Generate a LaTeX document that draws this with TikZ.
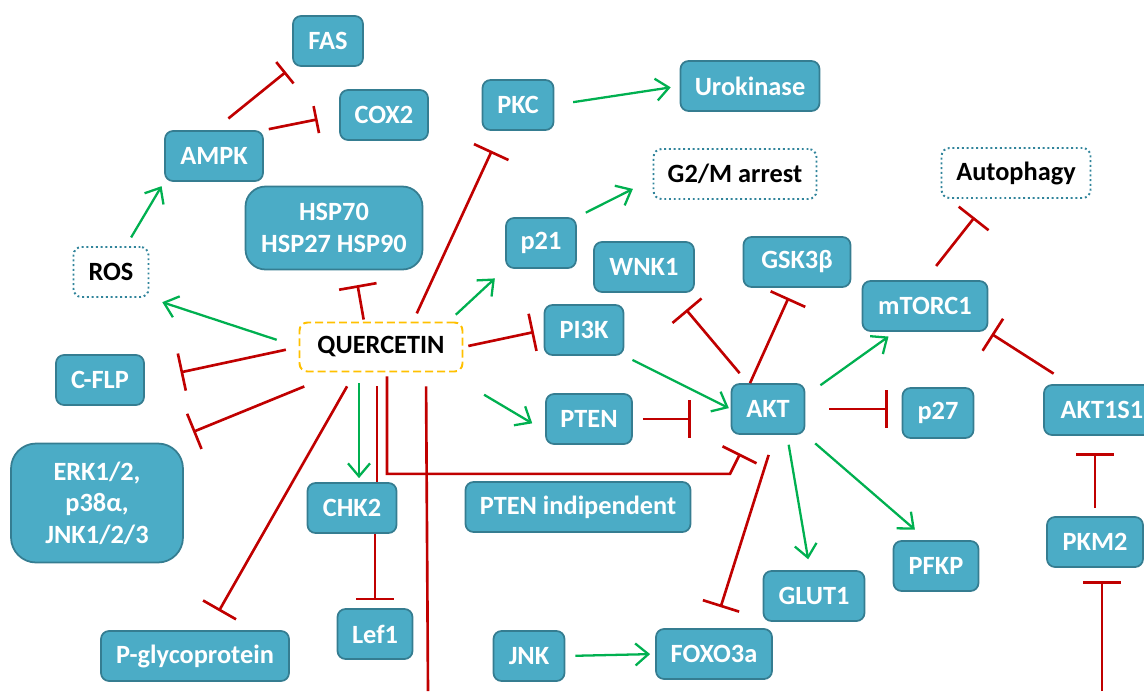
\documentclass[tikz,border=0pt]{standalone}
\usepackage{fontspec}
\setmainfont{Carlito}
\usepackage{tikz}
\usetikzlibrary{arrows.meta,calc}
\definecolor{boxfill}{HTML}{4BACC6}
\definecolor{boxline}{HTML}{357D91}
\definecolor{inhred}{HTML}{C00000}
\definecolor{actgreen}{HTML}{00B050}
\definecolor{qorange}{HTML}{FFC000}
\definecolor{dotline}{HTML}{31849B}

\begin{document}
\begin{tikzpicture}[x=0.02cm, y=-0.02cm,
    gene/.style={draw=boxline, line width=1pt, fill=boxfill, rounded corners=0.16cm, text=white,
        font=\fontsize{15}{18}\selectfont\bfseries, minimum height=1cm, inner sep=0pt, align=center},
    event/.style={draw=dotline, line width=1.1pt, dash pattern=on 1.1pt off 1.6pt, rounded corners=0.16cm,
        font=\fontsize{15}{18}\selectfont\bfseries, minimum height=1cm, inner sep=0pt},
    act/.style={draw=actgreen, line width=1.3pt, -{Straight Barb[length=0.26cm,width=0.44cm]}},
    inh/.style={draw=inhred, line width=1.5pt, -{Bar[width=0.76cm]}},
    plainred/.style={draw=inhred, line width=1.5pt}]
    \useasboundingbox (0,0) rectangle (1144,691);

    % Nodes
    \node[gene, minimum width=1.4cm] (fas) at (328,41) {FAS};
    \node[gene, minimum width=1.76cm] (cox) at (384,115) {COX2};
    \node[gene, minimum width=1.96cm] (ampk) at (214,156) {AMPK};
    \node[gene, minimum width=3.54cm, minimum height=1.66cm, rounded corners=0.4cm] (hsp) at (334,228) {HSP70\\HSP27 HSP90};
    \node[event, minimum width=1.5cm] (ros) at (111,272) {ROS};
    \node[draw=qorange, line width=1.1pt, dash pattern=on 4.5pt off 2.3pt, rounded corners=0.16cm,
        font=\fontsize{15}{18}\selectfont\bfseries, minimum width=3.26cm, minimum height=0.98cm] (querc) at (381,347) {QUERCETIN};
    \node[gene, minimum width=1.76cm] (cflp) at (100,380) {C-FLP};
    \node[gene, minimum width=3.44cm, minimum height=2.38cm, rounded corners=0.5cm] (erk) at (97,503) {ERK1/2,\\p38α,\\JNK1/2/3};
    \node[gene, minimum width=1.78cm] (chk) at (352,508) {CHK2};
    \node[gene, minimum width=1.5cm] (lef) at (375,634) {Lef1};
    \node[gene, minimum width=3.76cm] (pgly) at (195,656) {P-glycoprotein};
    \node[gene, minimum width=1.42cm] (pkc) at (518,105) {PKC};
    \node[gene, minimum width=2.78cm] (uro) at (750,86) {Urokinase};
    \node[event, minimum width=3.26cm] (gtwo) at (735,174) {G2/M arrest};
    \node[event, minimum width=2.98cm] (autoph) at (1016,173) {Autophagy};
    \node[gene, minimum width=1.4cm] (pone) at (541,243) {p21};
    \node[gene, minimum width=2cm] (wnk) at (644,267) {WNK1};
    \node[gene, minimum width=2.14cm] (gsk) at (797,262) {GSK3β};
    \node[gene, minimum width=2.5cm] (mtor) at (925,306) {mTORC1};
    \node[gene, minimum width=1.58cm] (pik) at (584,330) {PI3K};
    \node[gene, minimum width=1.46cm] (akt) at (768,409) {AKT};
    \node[gene, minimum width=1.72cm] (pten) at (589,419) {PTEN};
    \node[gene, minimum width=1.42cm] (pseven) at (938,413) {p27};
    \node[gene, minimum width=2.32cm] (aktss) at (1102,410) {AKT1S1};
    \node[gene, minimum width=4.5cm] (ptenind) at (578,507) {PTEN indipendent};
    \node[gene, minimum width=1.92cm] (pkm) at (1095,542) {PKM2};
    \node[gene, minimum width=1.7cm] (pfkp) at (936,566) {PFKP};
    \node[gene, minimum width=2.02cm] (glut) at (814,596) {GLUT1};
    \node[gene, minimum width=1.42cm] (jnk) at (529,656) {JNK};
    \node[gene, minimum width=2.32cm] (foxo) at (714,654) {FOXO3a};
    \coordinate (qend) at (428,691);
    \coordinate (pkmin) at (1102,691);

    % Quercetin targets
    \draw[act, shorten <=0.46cm, shorten >=0.27cm] (querc.west) -- (ros.south east);
    \draw[inh, shorten <=0.04cm, shorten >=0.3cm] ([xshift=-0.34cm]querc.north) -- ([xshift=0.42cm]hsp.south);
    \draw[inh, shorten <=0.18cm, shorten >=0.44cm] ([xshift=0.64cm]querc.north) -- ([xshift=-0.34cm]pkc.south);
    \draw[act, shorten <=0.2cm, shorten >=0.28cm] ([xshift=-0.3cm]querc.north east) -- (pone.south west);
    \draw[inh, shorten <=0.1cm, shorten >=0.2cm] (querc.east) -- (pik.west);
    \draw[act, shorten <=0.48cm, shorten >=0.3cm] ([yshift=-0.2cm]querc.south east) -- ([yshift=-0.24cm]pten.west);
    \draw[inh, shorten <=0.26cm, shorten >=0.73cm] (querc.west) -- (cflp.east);
    \draw[inh, shorten <=0.74cm, shorten >=0.2cm] ([xshift=0.8cm]querc.south west) -- ([yshift=0.14cm]erk.north east);
    \draw[inh, shorten <=0.32cm, shorten >=0.44cm] ([xshift=-0.52cm]querc.south) -- ([xshift=0.26cm]pgly.north);
    \draw[act, shorten <=0.22cm, shorten >=0.08cm] ([xshift=-0.44cm]querc.south) -- ([xshift=-0.44cm]querc.south |- chk.north);
    \draw[plainred, shorten <=0.28cm] ([xshift=-0.08cm]querc.south) -- ([xshift=-0.08cm]querc.south |- chk.north);
    \draw[inh, shorten <=0.08cm, shorten >=0.42cm] ([xshift=0.12cm]querc.south) |- ($(akt.south)+(-38,39)$) -- ([xshift=-0.37cm]akt.south);
    \draw[plainred, shorten <=0.28cm] ([xshift=0.9cm]querc.south) -- (qend);
    \draw[inh, shorten >=0.16cm] (lef.north |- chk.south) -- (lef.north);

    % AMPK branch
    \draw[act, shorten <=0.2cm, shorten >=0.1cm] (ros.60) -- (ampk.south west);
    \draw[inh, -{Bar[width=0.55cm]}, shorten <=0.37cm, shorten >=0.16cm] (ampk.north) -- (fas.south west);
    \draw[inh, -{Bar[width=0.55cm]}, shorten <=0.1cm, shorten >=0.44cm] (ampk.north east) -- (cox.west);

    % Upper right
    \draw[act, shorten <=0.38cm, shorten >=0.18cm] (pkc.east) -- (uro.west);
    \draw[act, shorten <=0.2cm, shorten >=0.44cm] (pone.north east) -- ([yshift=-0.1cm]gtwo.west);
    \draw[inh, shorten <=0.36cm, shorten >=0.47cm] (mtor.north) -- ([xshift=-0.54cm]autoph.south);

    % AKT hub
    \draw[act, shorten <=0.18cm, shorten >=0.04cm] (pik.south east) -- (akt.west);
    \draw[inh, shorten <=0.2cm, shorten >=0.8cm] (pten.east) -- (pten.east -| akt.west);
    \draw[inh, shorten <=0.26cm, shorten >=0.44cm] ([xshift=-0.4cm]akt.north) -- ([xshift=0.56cm]wnk.south);
    \draw[inh, shorten >=0.22cm] ([xshift=-0.36cm]akt.north) -- ([xshift=-0.08cm]gsk.south);
    \draw[act, shorten <=0.37cm, shorten >=0.16cm] ([yshift=0.26cm]akt.east) -- ([xshift=-0.6cm]mtor.south);
    \draw[inh, shorten <=0.48cm, shorten >=0.28cm] (akt.east) -- (akt.east -| pseven.west);
    \draw[inh, shorten <=0.39cm, shorten >=0.08cm] ([xshift=-0.64cm]aktss.north) -- (mtor.south east);
    \draw[inh, shorten <=0.42cm, shorten >=0.44cm] ([xshift=0.14cm]akt.south) -- (foxo.north);
    \draw[act, shorten <=0.2cm, shorten >=0.22cm] ([xshift=0.38cm]akt.south) -- ([xshift=-0.08cm]glut.north);
    \draw[act, shorten <=0.26cm, shorten >=0.32cm] (akt.south east) -- ([xshift=-0.18cm]pfkp.north);
    \draw[act, shorten <=0.2cm, shorten >=0.1cm] (jnk.east) -- (foxo.west);

    % PKM2
    \draw[inh, shorten <=0.16cm, shorten >=0.34cm] (pkm.north) -- (pkm.north |- aktss.south);
    \draw[inh, shorten >=0.26cm] (pkmin) -- (pkmin |- pkm.south);
\end{tikzpicture}
\end{document}
